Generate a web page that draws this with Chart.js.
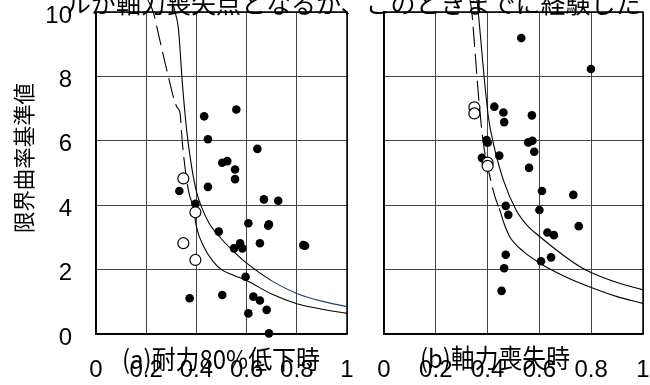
<!DOCTYPE html>
<html>
<head>
<meta charset="utf-8">
<script src="https://cdn.jsdelivr.net/npm/chart.js@4.4.1/dist/chart.umd.min.js"></script>
<style>
  body { margin: 0; background: #fff; }
  #wrap { position: relative; width: 650px; height: 385px; overflow: hidden; }
  canvas { position: absolute; top: 0; }
  #ca { left: 0; }
  #cb { left: 360px; }
  #cc { left: 0; pointer-events: none; }
</style>
</head>
<body>
<div id="wrap">
  <canvas id="ca" width="360" height="385"></canvas>
  <canvas id="cb" width="290" height="385"></canvas>
  <canvas id="cc" width="650" height="385"></canvas>
</div>
<script>
// texts
const topText = 'ルが軸力喪失点となるか、このときまでに経験した';
const yTitle = '限界曲率基準値';
const panelTitles = ['(a)耐力80%低下時', '(b)軸力喪失時'];
const xTickLabels = ['0', '0.2', '0.4', '0.6', '0.8', '1'];
const yTickLabels = ['0', '2', '4', '6', '8', '10'];

// (a) 耐力80%低下時
const aDotX = [0.431, 0.559, 0.446, 0.643, 0.503, 0.523, 0.554, 0.554, 0.446, 0.332, 0.669, 0.726, 0.396, 0.607, 0.689, 0.686, 0.489, 0.574, 0.55, 0.583, 0.653, 0.826, 0.833, 0.596, 0.373, 0.503, 0.627, 0.653, 0.68, 0.607, 0.689];
const aDotY = [6.76, 6.97, 6.05, 5.75, 5.32, 5.37, 5.11, 4.81, 4.57, 4.44, 4.18, 4.14, 4.04, 3.44, 3.41, 3.36, 3.18, 2.82, 2.66, 2.66, 2.82, 2.76, 2.74, 1.78, 1.11, 1.21, 1.16, 1.04, 0.75, 0.64, 0.02];
const aOpenX = [0.348, 0.396, 0.348, 0.396];
const aOpenY = [4.83, 3.78, 2.82, 2.30];
const aDashX = [0.207, 0.228, 0.255, 0.282, 0.322, 0.335, 0.341, 0.348, 0.368, 0.388];
const aDashY = [10.37, 10.0, 9.1, 8.2, 7.05, 6.86, 6.24, 5.62, 4.47, 3.94];
const aLowX = [0.388, 0.401, 0.43, 0.467, 0.5, 0.55, 0.6, 0.7, 0.8, 0.9, 1.0];
const aLowY = [3.94, 3.3, 2.7, 2.25, 2.0, 1.82, 1.66, 1.24, 0.94, 0.77, 0.64];
const aUpX = [0.303, 0.315, 0.328, 0.345, 0.361, 0.381, 0.401, 0.421, 0.45, 0.5, 0.55, 0.6, 0.7, 0.8, 0.9, 1.0];
const aUpY = [10.37, 10.0, 9.5, 7.7, 6.34, 5.19, 4.4, 3.94, 3.45, 2.95, 2.55, 2.2, 1.65, 1.26, 1.02, 0.85];

// (b) 軸力喪失時
const bDotX = [0.530, 0.799, 0.426, 0.461, 0.464, 0.571, 0.396, 0.4, 0.557, 0.573, 0.58, 0.378, 0.445, 0.56, 0.61, 0.731, 0.47, 0.48, 0.6, 0.752, 0.631, 0.656, 0.47, 0.645, 0.606, 0.464, 0.454];
const bDotY = [9.19, 8.23, 7.06, 6.88, 6.58, 6.79, 6.02, 5.94, 5.95, 6.0, 5.66, 5.47, 5.54, 5.16, 4.44, 4.32, 3.98, 3.70, 3.85, 3.35, 3.15, 3.07, 2.46, 2.38, 2.26, 2.04, 1.34];
const bOpenX = [0.349, 0.349, 0.4, 0.4];
const bOpenY = [7.04, 6.85, 5.32, 5.22];
const bDashX = [0.332, 0.339, 0.351, 0.364, 0.382, 0.409, 0.429, 0.445];
const bDashY = [10.37, 10.0, 8.82, 7.48, 6.02, 4.88, 4.25, 3.9];
const bLowX = [0.445, 0.465, 0.486, 0.54, 0.602, 0.7, 0.808, 0.9, 1.0];
const bLowY = [3.9, 3.4, 3.01, 2.55, 2.2, 1.78, 1.42, 1.16, 0.95];
const bUpX = [0.359, 0.364, 0.383, 0.403, 0.422, 0.461, 0.51, 0.55, 0.602, 0.7, 0.757, 0.808, 0.9, 1.0];
const bUpY = [10.37, 10.0, 8.29, 6.74, 5.93, 4.78, 3.85, 3.4, 3.02, 2.4, 2.09, 1.88, 1.6, 1.37];

const pts = (xs, ys) => xs.map((x, i) => ({ x, y: ys[i] }));
const numFont = { family: '"Liberation Sans", Arial, sans-serif', size: 24 };
const lineClip = { left: 0, top: 12, right: 0, bottom: 0 };

Chart.defaults.font.family = numFont.family;

// black frame round the plot area
const frame = {
  id: 'frame',
  beforeDatasetsDraw(chart) {
    const { ctx, chartArea: a } = chart;
    ctx.save();
    ctx.strokeStyle = '#000';
    ctx.lineWidth = 1.5;
    ctx.strokeRect(a.left, a.top, a.right - a.left, a.bottom - a.top);
    ctx.restore();
  }
};

function makeDatasets(dotX, dotY, openX, openY, dashX, dashY, lowX, lowY, upX, upY, blueFrom) {
  return [
    {
      type: 'scatter', data: pts(openX, openY), clip: false,
      pointRadius: 5.5, pointBackgroundColor: '#fff', pointBorderColor: '#000', pointBorderWidth: 1.2
    },
    {
      type: 'scatter', data: pts(dotX, dotY), clip: false,
      pointRadius: 4.3, pointBackgroundColor: '#000', pointBorderColor: '#000', pointBorderWidth: 0
    },
    {
      type: 'line', data: pts(dashX, dashY), clip: lineClip, pointRadius: 0,
      borderColor: '#000', borderWidth: 1.1, borderDash: [20, 7], cubicInterpolationMode: 'monotone'
    },
    {
      type: 'line', data: pts(lowX, lowY), clip: lineClip, pointRadius: 0,
      borderColor: '#000', borderWidth: 1.1, cubicInterpolationMode: 'monotone'
    },
    {
      type: 'line', data: pts(upX, upY), clip: lineClip, pointRadius: 0,
      borderColor: '#000', borderWidth: 1.1, cubicInterpolationMode: 'monotone',
      segment: { borderColor: c => (c.p0.parsed.x >= blueFrom ? '#1d3f7a' : '#000') }
    }
  ];
}

function makeOptions(showY, yWidth, padRight) {
  return {
    responsive: false,
    animation: false,
    events: [],
    layout: { padding: { top: 12, right: padRight, left: 0, bottom: 0 } },
    plugins: { legend: { display: false }, tooltip: { enabled: false } },
    scales: {
      x: {
        type: 'linear', min: 0, max: 1,
        grid: { color: '#444', lineWidth: 1, drawTicks: false },
        border: { color: '#000', width: 1.5 },
        ticks: {
          stepSize: 0.2, padding: 22, color: '#000', font: numFont, maxRotation: 0,
          callback: (v, i) => xTickLabels[i]
        },
        afterFit: s => { s.height = 51; s.paddingLeft = 0; s.paddingRight = 0; }
      },
      y: {
        type: 'linear', min: 0, max: 10,
        grid: { color: '#444', lineWidth: 1, drawTicks: false },
        border: { color: '#000', width: 1.5 },
        ticks: {
          display: showY, stepSize: 2, padding: 24, labelOffset: 4, color: '#000', font: numFont,
          callback: (v, i) => yTickLabels[i]
        },
        afterFit: s => { s.width = yWidth; s.paddingTop = 0; s.paddingBottom = 0; }
      }
    }
  };
}

new Chart(document.getElementById('ca'), {
  data: { datasets: makeDatasets(aDotX, aDotY, aOpenX, aOpenY, aDashX, aDashY, aLowX, aLowY, aUpX, aUpY, 0.62) },
  options: makeOptions(true, 96, 13),
  plugins: [frame]
});

new Chart(document.getElementById('cb'), {
  data: { datasets: makeDatasets(bDotX, bDotY, bOpenX, bOpenY, bDashX, bDashY, bLowX, bLowY, bUpX, bUpY, 2) },
  options: makeOptions(false, 24, 7),
  plugins: [frame]
});

// texts laid over both panels
const cc = document.getElementById('cc').getContext('2d');
const jp = '"Noto Sans CJK JP", "Noto Sans", sans-serif';
cc.fillStyle = '#000';

cc.font = '25px ' + jp;
cc.textAlign = 'left';
cc.textBaseline = 'alphabetic';
cc.fillText(topText, 66, 13);

cc.font = '26px ' + jp;
cc.textAlign = 'center';
cc.textBaseline = 'middle';
cc.fillText(panelTitles[0], 221, 359, 198);
cc.fillText(panelTitles[1], 495, 358, 150);

cc.save();
cc.translate(24, 158);
cc.rotate(-Math.PI / 2);
cc.font = '22px ' + jp;
cc.fillText(yTitle, 0, 0, 150);
cc.restore();
</script>
</body>
</html>
